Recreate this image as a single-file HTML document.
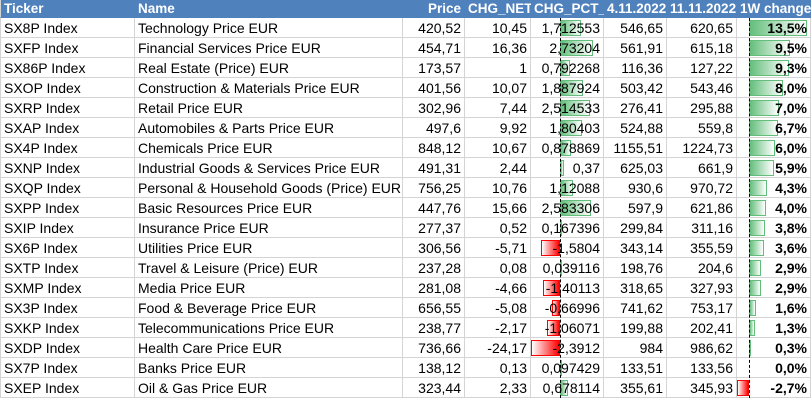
<!DOCTYPE html>
<html><head><meta charset="utf-8"><style>
body{margin:0;width:811px;height:400px;overflow:hidden;background:#fff;font-family:"Liberation Sans",sans-serif;font-size:14px;color:#000}
#t{position:absolute;left:0;top:0}
.c{position:absolute;box-sizing:border-box;border-right:1px solid #d4d4d4;border-bottom:1px solid #d4d4d4;white-space:nowrap;overflow:visible;padding:0 3px;line-height:20px}
.h{background:#4f81bd;color:#fff;font-weight:bold;border-color:#4f81bd;line-height:18px;font-size:13.5px}
.r{text-align:right}
.bar{position:absolute;box-sizing:border-box}
.pos{background:linear-gradient(to right,#63be7b,#fff);border:1px solid #63be7b}
.neg{background:linear-gradient(to left,#ff0000,#fff);border:1px solid #ff0000}
.ax{position:absolute;border-left:1px dashed #000;width:0}
</style></head><body>
<div id="t"></div>
<script>
const tickers=["SX8P Index","SXFP Index","SX86P Index","SXOP Index","SXRP Index","SXAP Index","SX4P Index","SXNP Index","SXQP Index","SXPP Index","SXIP Index","SX6P Index","SXTP Index","SXMP Index","SX3P Index","SXKP Index","SXDP Index","SX7P Index","SXEP Index"];
const names=["Technology Price EUR","Financial Services Price EUR","Real Estate (Price) EUR","Construction & Materials Price EUR","Retail Price EUR","Automobiles & Parts Price EUR","Chemicals Price EUR","Industrial Goods & Services Price EUR","Personal & Household Goods (Price) EUR","Basic Resources Price EUR","Insurance Price EUR","Utilities Price EUR","Travel & Leisure (Price) EUR","Media Price EUR","Food & Beverage Price EUR","Telecommunications Price EUR","Health Care Price EUR","Banks Price EUR","Oil & Gas Price EUR"];
const price=["420,52","454,71","173,57","401,56","302,96","497,6","848,12","491,31","756,25","447,76","277,37","306,56","237,28","281,08","656,55","238,77","736,66","138,12","323,44"];
const chgNet=["10,45","16,36","1","10,07","7,44","9,92","10,67","2,44","10,76","15,66","0,52","-5,71","0,08","-4,66","-5,08","-2,17","-24,17","0,13","2,33"];
const chgPct=[1.712553,2.73204,0.792268,1.887924,2.514533,1.80403,0.878869,0.37,1.12088,2.583306,0.167396,-1.5804,0.039116,-1.40113,-0.66996,-1.06071,-2.3912,0.097429,0.678114];
const pctLabels=["1,712553","2,73204","0,792268","1,887924","2,514533","1,80403","0,878869","0,37","1,12088","2,583306","0,167396","-1,5804","0,039116","-1,40113","-0,66996","-1,06071","-2,3912","0,097429","0,678114"];
const d4=["546,65","561,91","116,36","503,42","276,41","524,88","1155,51","625,03","930,6","597,9","299,84","343,14","198,76","318,65","741,62","199,88","984","133,51","355,61"];
const d11=["620,65","615,18","127,22","543,46","295,88","559,8","1224,73","661,9","970,72","621,86","311,16","355,59","204,6","327,93","753,17","202,41","986,62","133,56","345,93"];
const w1=[13.5,9.5,9.3,8.0,7.0,6.7,6.0,5.9,4.3,4.0,3.8,3.6,2.9,2.9,1.6,1.3,0.3,0.0,-2.7];
const headers=["Ticker","Name","Price","CHG_NET","CHG_PCT_","4.11.2022","11.11.2022","1W change"];
const xs=[0,135,403,465,531,604,667,737,811];
const t=document.getElementById('t');
const HH=18,RH=20;
function cell(col,row,text,cls){const d=document.createElement('div');d.className='c '+cls;
const y=row<0?0:HH+row*RH;d.style.left=xs[col]+'px';d.style.top=y+'px';d.style.width=(xs[col+1]-xs[col])+'px';d.style.height=(row<0?HH:RH)+'px';
if(col===0)d.style.borderLeft='1px solid #d4d4d4';
d.textContent=text;t.appendChild(d);

return d;}
headers.forEach((h,i)=>{const d=cell(i,-1,h,'h'+(i>=2?' r':''));if(i===0||i===1)d.style.textAlign='left';});
const ax1=560,sc1=12,ax2=749,sc2=4.3;
function bar(row,axis,val,scale){const b=document.createElement('div');const w=Math.abs(val)*scale;
b.className='bar '+(val>=0?'pos':'neg');b.style.top=(HH+row*RH+2)+'px';b.style.height=(RH-4)+'px';
b.style.left=(val>=0?axis:axis-w)+'px';b.style.width=Math.max(w,val===0?0:1)+'px';if(val===0)b.style.display='none';

t.appendChild(b);}
for(let i=0;i<tickers.length;i++){
cell(0,i,tickers[i],'');cell(1,i,names[i],'');cell(2,i,price[i],'r');cell(3,i,chgNet[i],'r');
bar(i,ax1,chgPct[i],sc1);bar(i,ax2,w1[i],sc2);
cell(4,i,pctLabels[i],'r');cell(5,i,d4[i],'r');cell(6,i,d11[i],'r');
const c=cell(7,i,w1[i].toFixed(1).replace('.',',')+'%','r');c.style.fontWeight='bold';}
[ax1,ax2].forEach(a=>{const l=document.createElement('div');l.className='ax';l.style.left=a+'px';l.style.top=HH+'px';l.style.height=(RH*tickers.length)+'px';

t.appendChild(l);});
</script>
</body></html>
